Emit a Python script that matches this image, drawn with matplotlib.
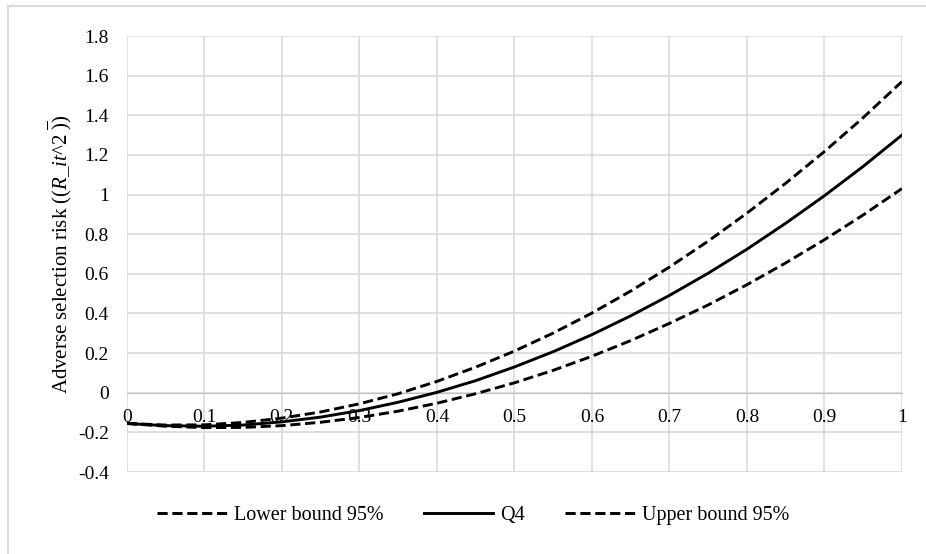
import matplotlib
matplotlib.use("Agg")
import matplotlib.pyplot as plt
from matplotlib.lines import Line2D

plt.rcParams['font.family'] = ['Liberation Serif', 'DejaVu Serif']
plt.rcParams['mathtext.fontset'] = 'custom'
plt.rcParams['mathtext.rm'] = 'Liberation Serif'
plt.rcParams['mathtext.it'] = 'Liberation Serif:italic'

# values, x from 0 to 1 in steps of 0.05
x_vals = [0.0, 0.05, 0.1, 0.15, 0.2, 0.25, 0.3, 0.35, 0.4, 0.45, 0.5,
          0.55, 0.6, 0.65, 0.7, 0.75, 0.8, 0.85, 0.9, 0.95, 1.0]
lower_95 = [-0.155, -0.169, -0.176, -0.175, -0.166, -0.149, -0.125, -0.093, -0.053, -0.005, 0.050,
            0.113, 0.184, 0.263, 0.350, 0.443, 0.545, 0.655, 0.772, 0.897, 1.030]
q4 = [-0.155, -0.166, -0.169, -0.163, -0.147, -0.123, -0.090, -0.048, 0.002, 0.061, 0.130,
      0.207, 0.293, 0.388, 0.491, 0.603, 0.724, 0.855, 0.994, 1.142, 1.300]
upper_95 = [-0.155, -0.163, -0.162, -0.150, -0.128, -0.097, -0.056, -0.005, 0.057, 0.129, 0.210,
            0.301, 0.402, 0.513, 0.634, 0.765, 0.906, 1.057, 1.217, 1.388, 1.570]

x_ticks = [0, 0.1, 0.2, 0.3, 0.4, 0.5, 0.6, 0.7, 0.8, 0.9, 1]
x_labels = ['0', '0.1', '0.2', '0.3', '0.4', '0.5', '0.6', '0.7', '0.8', '0.9', '1']
y_ticks = [-0.4, -0.2, 0, 0.2, 0.4, 0.6, 0.8, 1, 1.2, 1.4, 1.6, 1.8]
y_labels = ['-0.4', '-0.2', '0', '0.2', '0.4', '0.6', '0.8', '1', '1.2', '1.4', '1.6', '1.8']

grid_col = '#d9d9d9'

fig = plt.figure(figsize=(9.26, 5.54), dpi=100)
# chart-area border (only left and top edges fall inside the picture)
fig.add_artist(Line2D([8 / 926, 8 / 926], [0, 1 - 6 / 554], color=grid_col, lw=1.5))
fig.add_artist(Line2D([8 / 926, 1], [1 - 6 / 554, 1 - 6 / 554], color=grid_col, lw=1.5))

ax = fig.add_axes([0.137, 0.148, 0.837, 0.787])

dash = (3.5, 1.6)
ax.plot(x_vals, lower_95, color='black', lw=2.1, ls=(0, dash), label='Lower bound 95%', zorder=3)
ax.plot(x_vals, q4, color='black', lw=2.1, label='Q4', zorder=3)
ax.plot(x_vals, upper_95, color='black', lw=2.1, ls=(0, dash), label='Upper bound 95%', zorder=3)

ax.set_xlim(0, 1)
ax.set_ylim(-0.4, 1.8)
ax.set_xticks(x_ticks)
ax.set_xticklabels(x_labels)
ax.set_yticks(y_ticks)
ax.set_yticklabels(y_labels)
ax.grid(True, color=grid_col, lw=1.2, zorder=0)
ax.set_axisbelow(True)

for s in ['top', 'right', 'left']:
    ax.spines[s].set_visible(False)
ax.spines['bottom'].set_position(('data', 0))
ax.spines['bottom'].set_color('#bfbfbf')
ax.spines['bottom'].set_zorder(1)
ax.tick_params(axis='x', length=0, pad=12, labelsize=14)
ax.tick_params(axis='y', length=0, pad=13, labelsize=14)

ax.set_ylabel(r'Adverse selection risk (($R\_it$^2 $\overline{)}$)', fontsize=15, labelpad=3)

fig.legend(loc='center', bbox_to_anchor=(0.511, 0.069), ncol=3, frameon=False,
           fontsize=14.5, handlelength=3.45, columnspacing=2.0, handletextpad=0.35)

fig.savefig('out.png', dpi=100)
